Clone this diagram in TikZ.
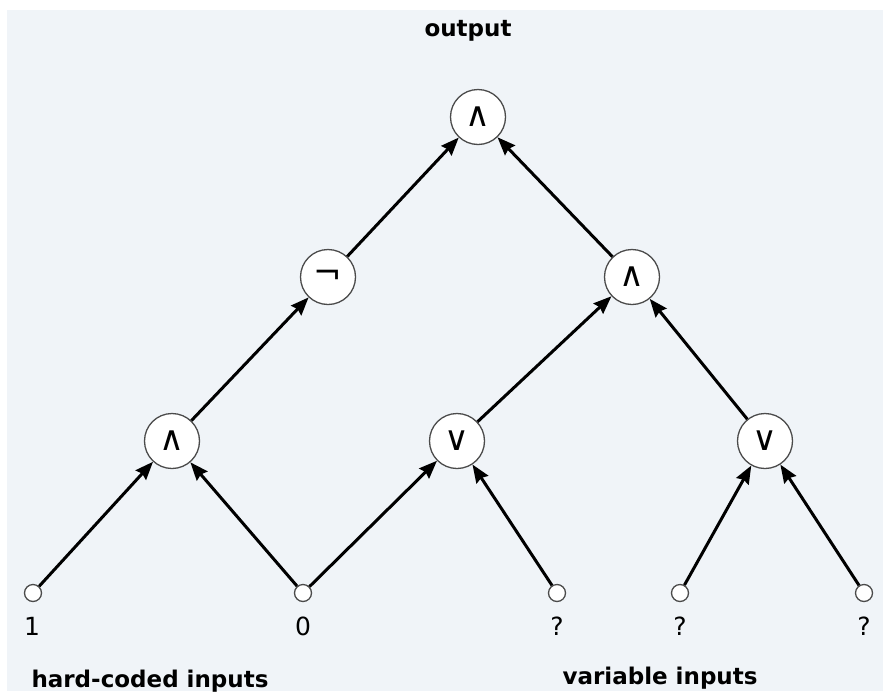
\documentclass[tikz,border=0pt]{standalone}
\usepackage{fontspec}
\setmainfont{DejaVu Sans}
\usetikzlibrary{positioning,arrows.meta}

\definecolor{panel}{RGB}{240,244,248}
\definecolor{rim}{RGB}{75,75,75}

\tikzset{
	gate/.style={circle, draw=rim, line width=1.3pt, fill=white, minimum size=55pt, inner sep=0pt, font=\fontsize{34}{40}\selectfont},
	pin/.style={circle, draw=rim, line width=1.3pt, fill=white, minimum size=17pt, inner sep=0pt},
	val/.style={inner sep=0pt, font=\fontsize{25}{30}\selectfont},
	caption/.style={anchor=base, inner sep=0pt, font=\bfseries\fontsize{23}{28}\selectfont},
	wire/.style={line width=3pt, -{Stealth[length=18pt,width=14pt,inset=2pt]}},
}

\begin{document}
\begin{tikzpicture}[on grid]
	\useasboundingbox (0pt,0pt) rectangle (883pt,-691pt);
	\fill[panel] (7pt,-10pt) rectangle (883pt,-691pt);

	% Nodes
	% Output gate
	\node[gate] (and-top) at (478pt,-117pt) {∧};
	% Middle row
	\node[gate, below=160pt of and-top, xshift=-150pt] (not-l) {¬};
	\node[gate, below=160pt of and-top, xshift=154pt]  (and-r) {∧};
	% Lower row
	\node[gate, below=164pt of not-l, xshift=-156pt] (and-l) {∧};
	\node[gate, below=164pt of and-r, xshift=-175pt] (or-m) {∨};
	\node[gate, below=164pt of and-r, xshift=133pt]  (or-r) {∨};

	% Inputs
	\node[pin, below=152pt of and-l, xshift=-139pt] (in-1) {};
	\node[pin, below=152pt of and-l, xshift=131pt]  (in-0) {};
	\node[pin, below=152pt of or-m, xshift=100pt]   (in-qa) {};
	\node[pin, below=152pt of or-r, xshift=-85pt]   (in-qb) {};
	\node[pin, below=152pt of or-r, xshift=99pt]    (in-qc) {};
	% Input values
	\node[val, below=33pt of in-1, xshift=-1pt] (val-1) {1};
	\node[val, below=33pt of in-0]  (val-0) {0};
	\node[val, below=33pt of in-qa] (val-qa) {?};
	\node[val, below=33pt of in-qb] (val-qb) {?};
	\node[val, below=33pt of in-qc] (val-qc) {?};

	% Captions
	\node[caption] (out-cap) at (468pt,-36pt) {output};
	\node[caption] (hard-cap) at (150pt,-687pt) {hard-coded inputs};
	\node[caption] (var-cap) at (660pt,-684pt) {variable inputs};

	% Edges
	% Inputs to lower gates
	\draw[wire] (in-1) -- (and-l);
	\draw[wire] (in-0) -- (and-l);
	\draw[wire] (in-0) -- (or-m);
	\draw[wire] (in-qa) -- (or-m);
	\draw[wire] (in-qb) -- (or-r);
	\draw[wire] (in-qc) -- (or-r);
	% Lower gates to middle gates
	\draw[wire] (and-l) -- (not-l);
	\draw[wire] (or-m) -- (and-r);
	\draw[wire] (or-r) -- (and-r);
	% Middle gates to output
	\draw[wire] (not-l) -- (and-top);
	\draw[wire] (and-r) -- (and-top);
\end{tikzpicture}
\end{document}
